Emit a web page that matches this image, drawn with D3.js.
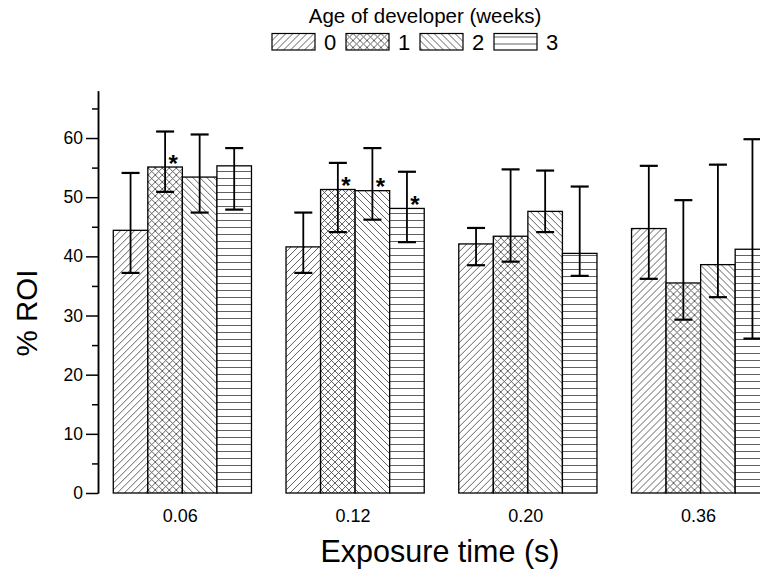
<!DOCTYPE html>
<html>
<head>
<meta charset="utf-8">
<script src="https://cdn.jsdelivr.net/npm/d3@7"></script>
<style>
  body { margin: 0; background: #fff; }
  text { font-family: "Liberation Sans", Arial, sans-serif; fill: #000; }
</style>
</head>
<body>
<div id="chart"></div>
<script>
// exposure times (x categories) and developer ages (series)
const groups = ["0.06", "0.12", "0.20", "0.36"]
const ages = ["0", "1", "2", "3"]

// % ROI per exposure time, one value per age
const roi = [
    [44.4, 55.1, 53.4, 55.3],
    [41.6, 51.3, 51.1, 48.1],
    [42.1, 43.4, 47.6, 40.5],
    [44.7, 35.5, 38.6, 41.2]
]
// error bar ends
const errLow = [
    [37.2, 50.9, 47.4, 47.9],
    [37.2, 44.1, 46.2, 42.4],
    [38.5, 39.1, 44.1, 36.7],
    [36.2, 29.3, 33.1, 26.1]
]
const errHigh = [
    [54.1, 61.1, 60.6, 58.3],
    [47.4, 55.8, 58.3, 54.3],
    [44.8, 54.7, 54.5, 51.8],
    [55.3, 49.5, 55.5, 59.8]
]
// [group, age] pairs marked with *
const stars = [[0, 1], [1, 1], [1, 2], [1, 3]]

const yTicks = [0, 10, 20, 30, 40, 50, 60]
const yMinor = [5, 15, 25, 35, 45, 55, 65]

const width = 760
const height = 573

const svg = d3.select('#chart')
    .append('svg')
    .attr('width', width)
    .attr('height', height)

// hatch patterns
const defs = svg.append('defs')
const hatch = [
    'M0,7 L7,0 M-1,1 L1,-1 M6,8 L8,6',
    'M0,7 L7,0 M-1,1 L1,-1 M6,8 L8,6 M0,0 L7,7 M-1,6 L1,8 M6,-1 L8,1',
    'M0,0 L7,7 M-1,6 L1,8 M6,-1 L8,1',
    'M0,3.5 H7'
]
hatch.forEach((d, i) => {
    const p = defs.append('pattern')
        .attr('id', 'pat' + i)
        .attr('patternUnits', 'userSpaceOnUse')
        .attr('width', 7)
        .attr('height', 7)
    p.append('rect').attr('width', 7).attr('height', 7).attr('fill', '#fff')
    p.append('path').attr('d', d)
        .attr('stroke', '#444')
        .attr('stroke-width', 0.85)
        .attr('fill', 'none')
})

// scales
const y = d3.scaleLinear()
    .domain([0, 68])
    .range([493, 90.7])

const x = d3.scaleBand()
    .domain(groups)
    .range([96, 787])
    .paddingInner(0.2)
    .paddingOuter(0.1)

const xSub = d3.scaleBand()
    .domain(ages)
    .range([0, x.bandwidth()])

// bars
const g = svg.selectAll('.grp')
    .data(groups)
    .enter()
    .append('g')
    .attr('class', 'grp')
    .attr('transform', d => 'translate(' + x(d) + ',0)')

g.selectAll('rect')
    .data((d, gi) => ages.map((a, ai) => ({ a, ai, gi, v: roi[gi][ai] })))
    .enter()
    .append('rect')
    .attr('x', d => xSub(d.a))
    .attr('y', d => y(d.v))
    .attr('width', xSub.bandwidth())
    .attr('height', d => y(0) - y(d.v))
    .attr('fill', d => 'url(#pat' + d.ai + ')')
    .attr('stroke', '#000')
    .attr('stroke-width', 1.3)

// error bars
const capW = 18
const eb = g.selectAll('.err')
    .data((d, gi) => ages.map((a, ai) => ({ a, lo: errLow[gi][ai], hi: errHigh[gi][ai] })))
    .enter()
    .append('g')
    .attr('class', 'err')
    .attr('transform', d => 'translate(' + (xSub(d.a) + xSub.bandwidth() / 2) + ',0)')
    .attr('stroke', '#000')
    .attr('stroke-width', 1.8)

eb.append('line').attr('x1', 0).attr('x2', 0).attr('y1', d => y(d.lo)).attr('y2', d => y(d.hi))
eb.append('line').attr('x1', -capW / 2).attr('x2', capW / 2).attr('y1', d => y(d.lo)).attr('y2', d => y(d.lo)).attr('stroke-width', 2.2)
eb.append('line').attr('x1', -capW / 2).attr('x2', capW / 2).attr('y1', d => y(d.hi)).attr('y2', d => y(d.hi)).attr('stroke-width', 2.2)

// significance stars
svg.selectAll('.star')
    .data(stars)
    .enter()
    .append('text')
    .attr('class', 'star')
    .attr('x', d => x(groups[d[0]]) + xSub(ages[d[1]]) + xSub.bandwidth() / 2 + 8)
    .attr('y', d => y(roi[d[0]][d[1]]) + 4.5)
    .attr('text-anchor', 'middle')
    .attr('font-size', 24)
    .attr('font-weight', 'bold')
    .text('*')

// y axis
const yAxis = d3.axisLeft(y)
    .tickValues(yTicks)
    .tickSize(12)
    .tickSizeOuter(0)
    .tickPadding(3)

const yAxisMinor = d3.axisLeft(y)
    .tickValues(yMinor)
    .tickSize(6)
    .tickSizeOuter(0)
    .tickFormat('')

svg.append('g')
    .attr('transform', 'translate(98,0)')
    .call(yAxisMinor)
    .call(a => a.selectAll('line, path').attr('stroke-width', 1.5))

svg.append('g')
    .attr('id', 'y-axis')
    .attr('transform', 'translate(98,0)')
    .call(yAxis)
    .call(a => a.selectAll('line, path').attr('stroke-width', 1.5))
    .call(a => a.selectAll('text').attr('font-size', 17.5).attr('font-family', '"Liberation Sans", Arial, sans-serif'))

// x category labels (no axis line in the original)
svg.selectAll('.xlab')
    .data(groups)
    .enter()
    .append('text')
    .attr('class', 'xlab')
    .attr('x', d => x(d) + x.bandwidth() / 2 - 2)
    .attr('y', 522)
    .attr('text-anchor', 'middle')
    .attr('font-size', 18)
    .text(d => d)

// axis titles
svg.append('text')
    .attr('x', 440)
    .attr('y', 562)
    .attr('text-anchor', 'middle')
    .attr('font-size', 30.5)
    .text('Exposure time (s)')

svg.append('text')
    .attr('transform', 'translate(37,313) rotate(-90)')
    .attr('text-anchor', 'middle')
    .attr('font-size', 29.5)
    .text('% ROI')

// legend
svg.append('text')
    .attr('x', 425)
    .attr('y', 22.7)
    .attr('text-anchor', 'middle')
    .attr('font-size', 20.5)
    .text('Age of developer (weeks)')

const leg = svg.selectAll('.leg')
    .data(ages)
    .enter()
    .append('g')
    .attr('class', 'leg')
    .attr('transform', (d, i) => 'translate(' + (272 + i * 74) + ',33.5)')

leg.append('rect')
    .attr('width', 43)
    .attr('height', 16.5)
    .attr('fill', (d, i) => 'url(#pat' + i + ')')
    .attr('stroke', '#000')
    .attr('stroke-width', 1.2)

leg.append('text')
    .attr('x', 52)
    .attr('y', 16.5)
    .attr('font-size', 22)
    .text(d => d)
</script>
</body>
</html>
